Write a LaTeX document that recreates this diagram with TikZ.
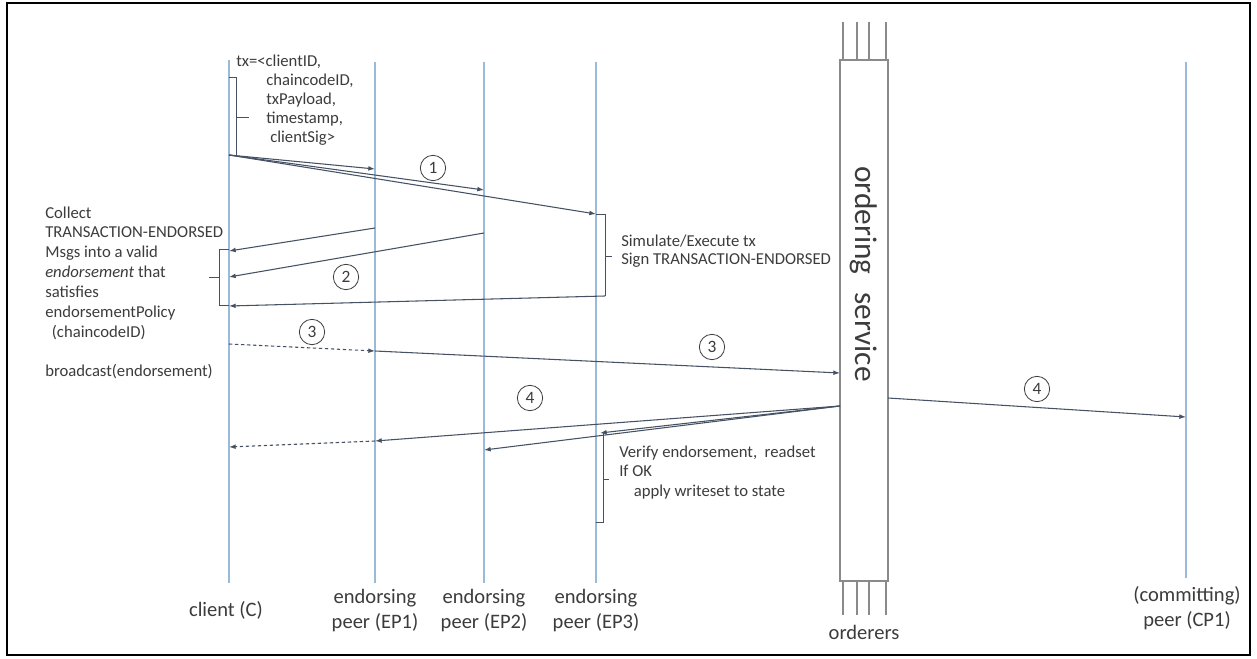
\documentclass[tikz,border=0pt]{standalone}
\usepackage{fontspec}
\setmainfont{Carlito}
\usetikzlibrary{arrows.meta}
\definecolor{life}{HTML}{9BBAD8}
\definecolor{msg}{HTML}{465264}
\definecolor{ink}{HTML}{3C3C3C}
\definecolor{boxc}{HTML}{8A8A8A}
\begin{document}
\begin{tikzpicture}[x=0.75pt,y=-0.75pt,
  lifeline/.style={draw=life, line width=0.8pt},
  msgline/.style={draw=msg, line width=0.8pt, -{Latex[length=5pt,width=3.6pt]}},
  dashmsg/.style={msgline, dash pattern=on 2.5pt off 2pt},
  bracket/.style={draw=msg, line width=0.7pt},
  ordbox/.style={draw=boxc, line width=0.8pt},
  stepnum/.style={circle, draw=ink, line width=0.6pt, inner sep=0pt, minimum size=19pt,
    font=\fontsize{13}{13}\selectfont, text=ink},
  note/.style={font=\fontsize{12.5}{15}\selectfont, text=ink, align=left, inner sep=0pt, anchor=base west},
  actor/.style={font=\fontsize{15.4}{18.5}\selectfont, text=ink, align=center, inner sep=0pt},
]
\useasboundingbox (0,0) rectangle (1257,659);
\fill[white] (0,0) rectangle (1257,659);
\draw[black, line width=1.5pt] (7,3) rectangle (1250,655);

% lifelines
\coordinate (cT) at (229,60);   \coordinate (cB) at (229,583);
\coordinate (p1T) at (375,62);  \coordinate (p1B) at (375,583);
\coordinate (p2T) at (484,62);  \coordinate (p2B) at (484,583);
\coordinate (p3T) at (596,62);  \coordinate (p3B) at (596,583);
\coordinate (cpT) at (1186,62); \coordinate (cpB) at (1186,578);
\draw[lifeline] (cT) -- (cB);
\draw[lifeline] (p1T) -- (p1B);
\draw[lifeline] (p2T) -- (p2B);
\draw[lifeline] (p3T) -- (p3B);
\draw[lifeline] (cpT) -- (cpB);

% ordering service column with its orderers
\foreach \ox in {843,857,869,886} {
  \draw[ordbox] (\ox,22) -- (\ox,60);
  \draw[ordbox] (\ox,581) -- (\ox,615);
}
\node[ordbox, fill=white, minimum width=48*0.75pt, minimum height=521*0.75pt, inner sep=0pt]
  (ord) at (864,320.5) {};
\node[rotate=-90, font=\fontsize{23.5}{23.5}\selectfont, text=ink, inner sep=0pt]
  (ordlabel) at (864,274) {ordering\hspace{0.35em} service};

% actor labels
\node[actor] (clientlbl) at (226,610) {client (C)};
\node[actor] (ep1lbl) at (375,610.5) {endorsing\\peer (EP1)};
\node[actor] (ep2lbl) at (484,610.5) {endorsing\\peer (EP2)};
\node[actor] (ep3lbl) at (596,610.5) {endorsing\\peer (EP3)};
\node[actor] (ordlbl) at (864,632) {orderers};
\node[actor] (cplbl) at (1187,608) {(committing)\\peer (CP1)};

% step 1: proposal sent to the endorsers
\coordinate (c1) at (229,155);
\coordinate (e1a) at (375,169);
\coordinate (e2a) at (484,190);
\coordinate (e3a) at (596,214);
\draw[bracket] (229,77) -- (236,77) -- (236,155) -- (c1);
\draw[bracket] (236,117) -- (249,117);
\node[note] (txnote) at (236,143) {tx=<clientID,\\[-0.6pt]
  \hspace*{22.5pt}chaincodeID,\\[-0.6pt]
  \hspace*{22.5pt}txPayload,\\[-0.6pt]
  \hspace*{22.5pt}timestamp,\\[-0.6pt]
  \hspace*{25.5pt}clientSig>};
\draw[msgline] (c1) -- (e1a);
\draw[msgline] (c1) -- (e2a);
\draw[msgline] (c1) -- (e3a);
\node[stepnum] (s1) at (433,168) {1};

% endorsement on EP3
\coordinate (sb1) at (605,214);
\coordinate (sb2) at (605,296);
\draw[bracket] (e3a) -- (sb1) -- (sb2);
\draw[bracket] (605,256) -- (612,256);
\node[note] (simnote) at (621,265) {Simulate/Execute tx\\[-0.8pt]Sign TRANSACTION-ENDORSED};

% step 2: endorsements returned to the client
\coordinate (r1) at (375,228);
\coordinate (r2) at (484,233);
\coordinate (cr1) at (229,251);
\coordinate (cr2) at (229,277);
\coordinate (cr3) at (229,306);
\draw[msgline] (r1) -- (cr1);
\draw[msgline] (r2) -- (cr2);
\draw[msgline] (sb2) -- (cr3);
\node[stepnum] (s2) at (346,277) {2};
\draw[bracket] (229,249) -- (219,249) -- (219,305) -- (229,305);
\draw[bracket] (219,277) -- (209,277);
\node[note] (collectnote) at (45,377) {Collect\\[-0.1pt]
  TRANSACTION-ENDORSED\\[-0.1pt]
  Msgs into a valid\\[-0.1pt]
  \textit{endorsement} that\\[-0.1pt]
  satisfies\\[-0.1pt]
  endorsementPolicy\\[-0.1pt]
  \hspace*{5pt}(chaincodeID)\\[-0.1pt]
  \\[-0.1pt]
  broadcast(endorsement)};

% step 3: broadcast to the ordering service
\coordinate (b0) at (229,344);
\coordinate (b1) at (375,351);
\coordinate (b2) at (840,373);
\draw[dashmsg] (b0) -- (b1);
\draw[msgline] (b1) -- (b2);
\node[stepnum] (s3a) at (312,332) {3};
\node[stepnum] (s3b) at (712,347) {3};

% step 4: delivery to the peers
\coordinate (d0) at (840,406);
\coordinate (d1) at (375,441);
\coordinate (dc) at (229,447);
\coordinate (d2) at (484,450);
\coordinate (d3) at (600,433);
\coordinate (dr0) at (888,398);
\coordinate (dr1) at (1186,417);
\draw[msgline] (d0) -- (d1);
\draw[dashmsg] (d1) -- (dc);
\draw[msgline] (d0) -- (d2);
\draw[msgline] (d0) -- (d3);
\draw[msgline] (dr0) -- (dr1);
\node[stepnum] (s4a) at (530,398) {4};
\node[stepnum] (s4b) at (1037,389) {4};

% validation on EP3
\draw[bracket] (603,433) -- (603,522) -- (596,522);
\draw[bracket] (603,479) -- (609,479);
\node[note] (verifynote) at (619,496) {Verify endorsement,\ \ readset\\[-0.5pt]
  If OK\\[-0.5pt]
  \hspace*{11pt}apply writeset to state};
\end{tikzpicture}
\end{document}
